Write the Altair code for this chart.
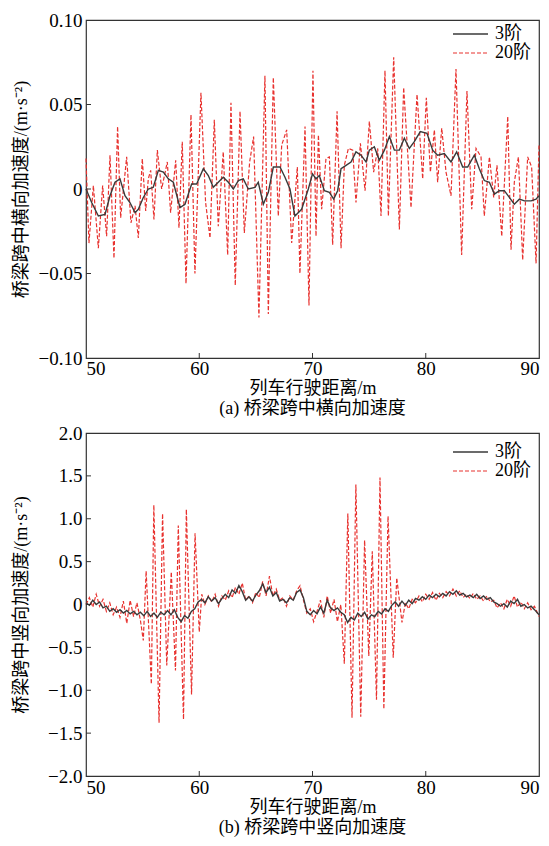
import altair as alt
import pandas as pd

SERIES = ["3阶", "20阶"]
X_TITLE = "列车行驶距离/m"
X_TICKS = [50, 60, 70, 80, 90]

# ---------- panel (a): lateral acceleration ----------
A_TITLE_Y = "桥梁跨中横向加速度/(m·s⁻²)"
A_CAPTION = "(a) 桥梁跨中横向加速度"
A_Y_TICKS = [-0.10, -0.05, 0, 0.05, 0.10]
A_DOMAIN = [-0.10, 0.10]

a3_x = [50.0, 50.5, 51.09, 51.68, 52.12, 52.56, 53.0, 53.44, 53.88, 54.33, 54.62, 55.06, 55.5,
        55.94, 56.39, 56.83, 57.27, 57.71, 58.3, 58.74, 59.33, 59.77, 60.36, 60.8, 61.24, 61.68,
        62.12, 62.57, 63.01, 63.45, 63.89, 64.33, 64.92, 65.21, 65.66, 66.1, 66.54, 67.13, 67.57,
        68.01, 68.45, 69.04, 69.63, 70.0, 70.31, 70.6, 71.05, 71.49, 71.87, 72.22, 72.52, 72.96,
        73.4, 73.84, 74.28, 74.73, 75.02, 75.46, 75.9, 76.35, 76.79, 77.23, 77.67, 78.11, 78.55,
        78.99, 79.52, 80.11, 80.61, 81.05, 81.64, 82.23, 82.73, 83.26, 83.7, 84.29, 84.73, 85.17,
        85.62, 86.06, 86.5, 86.94, 87.38, 87.82, 88.27, 88.71, 89.3, 89.74, 90.0]
a3_y = [0.0, -0.008, -0.016, -0.015, -0.004, 0.004, 0.006, -0.004, -0.008, -0.014, -0.012, -0.005,
        0.0, 0.001, 0.011, 0.010, 0.006, 0.004, -0.011, -0.009, 0.003, 0.003, 0.012, 0.008, 0.001,
        0.004, 0.007, 0.004, 0.0, 0.005, 0.006, 0.0, 0.001, 0.004, -0.009, -0.002, 0.013, 0.013,
        0.007, 0.0, -0.016, -0.012, 0.0, 0.009, 0.006, 0.008, -0.001, -0.002, -0.006, -0.001,
        0.012, 0.014, 0.016, 0.022, 0.020, 0.016, 0.023, 0.025, 0.017, 0.023, 0.031, 0.023, 0.023,
        0.030, 0.024, 0.028, 0.034, 0.033, 0.023, 0.020, 0.021, 0.016, 0.022, 0.013, 0.013, 0.020,
        0.012, 0.005, 0.004, -0.003, -0.001, -0.001, -0.005, -0.009, -0.006, -0.007, -0.007,
        -0.006, -0.004]

a20_x = [50.0, 50.26, 50.65, 51.09, 51.47, 51.82, 52.12, 52.47, 52.79, 53.06, 53.59, 53.97, 54.33,
         54.62, 54.97, 55.27, 55.5, 55.71, 56.0, 56.3, 56.68, 57.18, 57.47, 57.92, 58.21, 58.5,
         58.83, 59.27, 59.62, 60.15, 60.56, 60.95, 61.33, 61.68, 62.12, 62.51, 62.8, 63.18, 63.6,
         63.98, 64.45, 64.8, 65.27, 65.8, 66.1, 66.54, 66.98, 67.28, 67.72, 68.16, 68.66, 68.89,
         69.34, 69.69, 70.04, 70.31, 70.52, 70.81, 71.19, 71.49, 71.78, 72.17, 72.52, 72.81, 73.17,
         73.55, 73.84, 74.23, 74.64, 75.02, 75.4, 75.76, 76.05, 76.4, 76.7, 77.17, 77.67, 78.05,
         78.7, 79.23, 79.73, 80.05, 80.41, 80.76, 81.05, 81.41, 81.79, 82.23, 82.67, 83.17, 83.64,
         84.06, 84.44, 84.88, 85.17, 85.62, 86.0, 86.29, 86.71, 87.24, 87.53, 87.82, 88.18, 88.56,
         89.0, 89.35, 89.74, 90.0]
a20_y = [0.018, -0.032, 0.002, -0.035, 0.002, -0.028, 0.020, -0.041, 0.037, -0.017, 0.019, -0.020,
         -0.010, -0.029, 0.018, -0.013, 0.006, 0.011, -0.018, 0.023, 0.0, 0.016, -0.014, 0.017,
         -0.023, 0.028, -0.056, 0.044, -0.050, 0.057, -0.008, -0.029, 0.041, -0.022, 0.022, -0.039,
         0.051, -0.057, 0.046, -0.026, 0.016, 0.031, -0.076, 0.067, -0.074, 0.066, -0.016, 0.026,
         0.035, -0.032, 0.013, -0.050, 0.037, -0.069, 0.070, -0.028, 0.032, -0.012, 0.018, 0.019,
         -0.033, 0.046, -0.035, 0.014, 0.024, 0.023, -0.008, 0.027, -0.001, 0.040, 0.010, 0.024,
         -0.016, 0.070, -0.016, 0.078, -0.024, 0.060, -0.011, 0.056, 0.006, 0.054, 0.010, 0.035,
         0.004, 0.036, 0.010, -0.004, 0.071, -0.039, 0.058, -0.012, 0.024, 0.019, -0.016, 0.019,
         -0.005, 0.014, -0.028, 0.043, -0.036, 0.004, 0.019, -0.042, 0.019, 0.013, -0.044, 0.026]

# ---------- panel (b): vertical acceleration ----------
B_TITLE_Y = "桥梁跨中竖向加速度/(m·s⁻²)"
B_CAPTION = "(b) 桥梁跨中竖向加速度"
B_Y_TICKS = [-2.0, -1.5, -1.0, -0.5, 0, 0.5, 1.0, 1.5, 2.0]
B_DOMAIN = [-2.0, 2.0]

b3_x = [50.0, 50.3, 50.6, 50.9, 51.2, 51.5, 51.8, 52.1, 52.4, 52.7, 53.0, 53.3, 53.6, 53.9, 54.2,
        54.5, 54.8, 55.1, 55.4, 55.7, 56.0, 56.3, 56.6, 56.9, 57.2, 57.5, 57.8, 58.1, 58.4, 58.7,
        59.0, 59.3, 59.6, 59.9, 60.2, 60.5, 60.8, 61.1, 61.4, 61.7, 62.0, 62.3, 62.6, 62.9, 63.2,
        63.5, 63.8, 64.1, 64.4, 64.7, 65.0, 65.3, 65.6, 65.9, 66.2, 66.5, 66.8, 67.1, 67.4, 67.7,
        68.0, 68.3, 68.6, 68.9, 69.2, 69.5, 69.8, 70.1, 70.4, 70.7, 71.0, 71.3, 71.6, 71.9, 72.2,
        72.5, 72.8, 73.1, 73.4, 73.7, 74.0, 74.3, 74.6, 74.9, 75.2, 75.5, 75.8, 76.1, 76.4, 76.7,
        77.0, 77.3, 77.6, 77.9, 78.2, 78.5, 78.8, 79.1, 79.4, 79.7, 80.0, 80.3, 80.6, 80.9, 81.2,
        81.5, 81.8, 82.1, 82.4, 82.7, 83.0, 83.3, 83.6, 83.9, 84.2, 84.5, 84.8, 85.1, 85.4, 85.7,
        86.0, 86.3, 86.6, 86.9, 87.2, 87.5, 87.8, 88.1, 88.4, 88.7, 89.0, 89.3, 89.6, 90.0]
b3_y = [0.02, -0.01, 0.05, 0.0, 0.03, -0.04, -0.02, -0.08, -0.05, -0.09, -0.06, -0.10, -0.07,
        -0.11, -0.08, -0.12, -0.09,
        -0.13, -0.08, -0.14, -0.10, -0.15, -0.09, -0.12, -0.07, -0.12, -0.06, -0.15, -0.20, -0.13,
        -0.16, -0.08, -0.05, 0.03,
        0.06, 0.02, 0.09, 0.04, 0.08, 0.01, 0.07, 0.12, 0.08, 0.17, 0.13, 0.22, 0.15, 0.05, 0.09,
        0.04, 0.11,
        0.16, 0.24, 0.14, 0.20, 0.10, 0.14, 0.04, 0.06, 0.02, 0.08, 0.05, 0.14, 0.17, 0.08, -0.08,
        -0.12, -0.07,
        -0.11, -0.03, -0.10, 0.05, -0.04, -0.07, -0.04, -0.09, -0.12, -0.21, -0.15, -0.18, -0.10,
        -0.14, -0.09, -0.17, -0.12,
        -0.14, -0.08, -0.11, -0.05, -0.08, -0.01, 0.03, -0.02, 0.04, -0.01, 0.05, 0.01, 0.07, 0.05,
        0.09, 0.06, 0.11,
        0.08, 0.12, 0.09, 0.13, 0.10, 0.15, 0.12, 0.16, 0.11, 0.13, 0.09, 0.11, 0.08, 0.12, 0.07,
        0.10, 0.06,
        0.08, 0.03, 0.01, -0.02, 0.01, -0.03, 0.04, 0.01, 0.06, -0.02, 0.0, -0.04, -0.02, -0.06,
        -0.12]

b20_x = [50.0, 50.3, 50.6, 50.9, 51.2, 51.5, 51.8, 52.1, 52.4, 52.7, 53.0, 53.3, 53.6, 53.9, 54.2,
         54.5, 54.8, 55.06, 55.31, 55.77, 55.99, 56.45, 56.76, 57.13, 57.53, 57.9, 58.15, 58.61,
         58.86, 59.32, 59.63, 60.0, 60.22, 60.5, 60.8, 61.1, 61.4, 61.7, 62.0, 62.3, 62.6, 62.9,
         63.2, 63.5, 63.8, 64.1, 64.4, 64.7, 65.0, 65.3, 65.6, 65.9, 66.2, 66.5, 66.8, 67.1, 67.4,
         67.7, 68.0, 68.3, 68.6, 68.9, 69.2, 69.5, 69.8, 70.1, 70.4, 70.7, 71.0, 71.3, 71.6, 71.9,
         72.2, 72.5, 72.81, 73.12, 73.49, 73.83, 74.26, 74.6, 74.97, 75.28, 75.65, 75.96, 76.3,
         76.67, 77.13, 77.44, 77.9, 78.2, 78.5, 78.8, 79.1, 79.4, 79.7, 80.0, 80.3, 80.6, 80.9,
         81.2, 81.5, 81.8, 82.1, 82.4, 82.7, 83.0, 83.3, 83.6, 83.9, 84.2, 84.5, 84.8, 85.1, 85.4,
         85.7, 86.0, 86.3, 86.6, 86.9, 87.2, 87.5, 87.8, 88.1, 88.4, 88.7, 89.0, 89.3, 89.6, 90.0]
b20_y = [0.0, 0.08, -0.03, 0.12, -0.02, 0.06, -0.08, 0.02, -0.12, -0.03, -0.15, 0.04, -0.22, 0.05,
         -0.14, 0.02, -0.18,
         -0.42, 0.39, -0.93, 1.16, -1.38, 1.06, -0.71, 0.38, -0.77, 0.92, -1.34, 1.11, -1.05, 0.83,
         -0.32, 0.12,
         0.0, 0.10, 0.03, 0.12, -0.02, 0.10, 0.05, 0.16, 0.08, 0.20, 0.12, 0.25, 0.05, 0.10, 0.02,
         0.14, 0.08, 0.27, 0.10, 0.33, 0.10, 0.18, 0.05, 0.08, -0.02, 0.10, 0.05, 0.16, 0.22, 0.05,
         -0.10, -0.05, -0.20, -0.08, 0.05, -0.15, 0.10, -0.10, 0.06, -0.20, 0.0,
         -0.69, 1.06, -1.32, 1.40, -1.31, 0.75, -0.60, 0.62, -1.11, 1.48, -1.22, 1.03, -0.62, 0.31,
         -0.21,
         0.02, -0.05, 0.06, 0.02, 0.10, 0.03, 0.12, 0.06, 0.14, 0.05, 0.13, 0.08, 0.15, 0.10, 0.18,
         0.10, 0.16, 0.08, 0.12, 0.07, 0.13, 0.06, 0.10, 0.04, 0.10, 0.03, 0.05, -0.04, 0.02,
         -0.05, 0.06, -0.02, 0.10, -0.03, 0.03, -0.05, 0.02, -0.06, -0.02,
         -0.14]

# ---------- styling ----------
FONT = "'Liberation Serif', 'Noto Sans CJK SC', serif"
BLACK = "#3a3a3a"
RED = "#e8322f"
W = 453


def panel(x3, y3, x20, y20, yticks, ydomain, ytitle, caption, h, decimals, leg_y, lab_pad):
    d3 = pd.DataFrame({"x": x3, "y": y3})
    d20 = pd.DataFrame({"x": x20, "y": y20})
    xs = alt.Scale(domain=[50, 90], nice=False, zero=False)
    ys = alt.Scale(domain=ydomain, nice=False, zero=False)
    xax = alt.Axis(values=X_TICKS, title=X_TITLE, labelExpr="format(datum.value, 'd')",
                   labelPadding=lab_pad, titlePadding=1)
    yax = alt.Axis(values=yticks, title=ytitle,
                   labelExpr="datum.value == 0 ? '0' : replace(format(datum.value, '.%df'), '-', '−')" % decimals,
                   labelPadding=4, minExtent=50, maxExtent=50, titlePadding=6)
    X = alt.X("x:Q", scale=xs, axis=xax)
    Y = alt.Y("y:Q", scale=ys, axis=yax)

    red = alt.Chart(d20).mark_line(color=RED, strokeWidth=1.2, strokeDash=[4, 2]).encode(x=X, y=Y)
    black = alt.Chart(d3).mark_line(color=BLACK, strokeWidth=1.4).encode(x=X, y=Y)

    xt = alt.Chart(pd.DataFrame({"x": X_TICKS[1:-1]})).mark_rule(color="#333", strokeWidth=1).encode(
        x=X, y=alt.value(h), y2=alt.value(h - 5))
    yt = alt.Chart(pd.DataFrame({"y": yticks[1:-1]})).mark_rule(color="#333", strokeWidth=1).encode(
        y=Y, x=alt.value(0), x2=alt.value(5))

    lx0, lx1, ltx = 367, 402, 409
    leg_line0 = alt.Chart(pd.DataFrame({"s": [SERIES[0]]})).mark_rule(color=BLACK, strokeWidth=1.4).encode(
        x=alt.value(lx0), x2=alt.value(lx1), y=alt.value(leg_y[0]))
    leg_line1 = alt.Chart(pd.DataFrame({"s": [SERIES[1]]})).mark_rule(color=RED, strokeWidth=1.2, strokeDash=[4, 2]).encode(
        x=alt.value(lx0), x2=alt.value(lx1), y=alt.value(leg_y[1]))
    leg_txt0 = alt.Chart(pd.DataFrame({"s": [SERIES[0]]})).mark_text(
        align="left", baseline="middle", font=FONT, fontSize=18, color="#000").encode(
        text="s:N", x=alt.value(ltx), y=alt.value(leg_y[0]))
    leg_txt1 = alt.Chart(pd.DataFrame({"s": [SERIES[1]]})).mark_text(
        align="left", baseline="middle", font=FONT, fontSize=18, color="#000").encode(
        text="s:N", x=alt.value(ltx), y=alt.value(leg_y[1]))

    return alt.layer(red, black, xt, yt, leg_line0, leg_line1, leg_txt0, leg_txt1).properties(
        width=W, height=h,
        title=alt.TitleParams(text=caption, orient="bottom", font=FONT, fontSize=18,
                              fontWeight="normal", color="#000", offset=3))


top = panel(a3_x, a3_y, a20_x, a20_y, A_Y_TICKS, A_DOMAIN, A_TITLE_Y, A_CAPTION, 338, 2, (14, 33), 1)
bottom = panel(b3_x, b3_y, b20_x, b20_y, B_Y_TICKS, B_DOMAIN, B_TITLE_Y, B_CAPTION, 343, 1, (19, 38), 2)

chart = alt.vconcat(top, bottom, spacing=4).properties(
    padding={"left": 11, "top": 10, "right": 0, "bottom": 0},
    background="white",
).configure_axis(
    labelFont=FONT, titleFont=FONT, labelFontSize=19, titleFontSize=18,
    labelColor="#000", titleColor="#000", titleFontWeight="normal",
    grid=False, ticks=False, domain=False,
).configure_view(stroke="#333", strokeWidth=1.2)

chart.save("out.html", embed_options={"renderer": "svg", "actions": False})
